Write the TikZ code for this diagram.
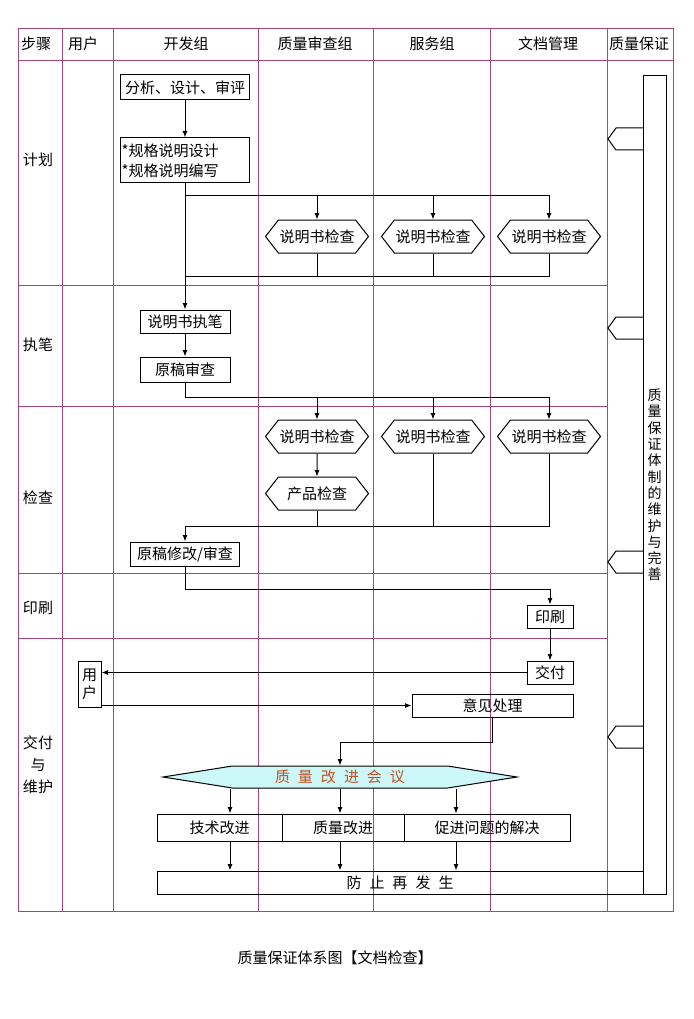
\documentclass[tikz,border=0pt]{standalone}
\usepackage{fontspec}
\setmainfont{Noto Sans CJK SC}
\usetikzlibrary{shapes.symbols,arrows.meta}
\definecolor{framec}{RGB}{168,70,120}
\definecolor{meetfill}{RGB}{204,248,250}
\definecolor{meettext}{RGB}{196,80,30}
\newcommand{\gp}{\hspace{8pt}}
\begin{document}
\begin{tikzpicture}[x=1pt,y=-1pt,
  frame/.style={draw=framec,line width=0.9pt},
  ln/.style={draw=black,line width=1pt},
  arr/.style={ln,-{Latex[length=6.5pt,width=5pt]}},
  txt/.style={font=\fontsize{15}{17}\selectfont,inner sep=0pt},
  box/.style={txt,draw=black,line width=1pt,rectangle},
  hexa/.style={txt,draw=black,line width=1pt,shape=signal,signal to=west and east,
    signal pointer angle=104,minimum width=103pt,minimum height=33pt},
  tabshape/.style={draw=black,line width=1pt}
]
\fill[white] (0,0) rectangle (693,1019);
\useasboundingbox (0,0) rectangle (693,1019);

% ---- frame ----
\draw[frame] (18,28) rectangle (673,911);
\draw[frame] (18,60) -- (673,60);
\foreach \x in {62,113,258,373,490,607} \draw[frame] (\x,28) -- (\x,911);
\foreach \y in {285,406,573,638} \draw[frame] (18,\y) -- (607,\y);

% ---- headers ----
\node[txt] (hstep) at (36,44) {步骤};
\node[txt] (huser) at (83,44) {用户};
\node[txt] (hdev) at (186,44) {开发组};
\node[txt] (hqr) at (315,44) {质量审查组};
\node[txt] (hsvc) at (432,44) {服务组};
\node[txt] (hdoc) at (548,44) {文档管理};
\node[txt] (hqa) at (639,44) {质量保证};

% ---- row labels ----
\node[txt] (rplan) at (38,160) {计划};
\node[txt] (rwrite) at (38,345) {执笔};
\node[txt] (rcheck) at (38,498) {检查};
\node[txt] (rprint) at (38,608) {印刷};
\node[txt,align=center,font=\fontsize{15}{22}\selectfont] (rdeliv) at (38,765) {交付\\与\\维护};

% ---- QA bar and tabs ----
\node[txt,draw=black,line width=1pt,minimum width=23pt,minimum height=818pt,align=center,
  font=\fontsize{14}{16.3}\selectfont] (qa) at (654.5,485)
  {质\\量\\保\\证\\体\\制\\的\\维\\护\\与\\完\\善};
\foreach \yc in {139,328,562,737}
  \draw[tabshape] (643,\yc-11) -- (616,\yc-11) -- (608,\yc) -- (616,\yc+11) -- (643,\yc+11);

% ---- development nodes ----
\node[box,minimum width=129pt,minimum height=25pt] (ana) at (185,87.5) {分析、设计、审评};
\node[box,minimum width=129pt,minimum height=45pt,text width=127pt,align=left,inner xsep=1pt,
  font=\fontsize{15}{20}\selectfont] (spec) at (185,160.5)
  {*规格说明设计\\{}*规格说明编写};
\node[hexa] (h1) at (317,236.5) {说明书检查};
\node[hexa] (h2) at (433,236.5) {说明书检查};
\node[hexa] (h3) at (549,236.5) {说明书检查};
\node[box,minimum width=90pt,minimum height=23pt] (write) at (185,321.5) {说明书执笔};
\node[box,minimum width=90pt,minimum height=25pt] (draft) at (185,369.5) {原稿审查};
\node[hexa] (h4) at (317,436.5) {说明书检查};
\node[hexa] (h5) at (433,436.5) {说明书检查};
\node[hexa] (h6) at (549,436.5) {说明书检查};
\node[hexa] (prod) at (317,493.5) {产品检查};
\node[box,minimum width=109pt,minimum height=24pt] (revise) at (185,554) {原稿修改/审查};
\node[box,minimum width=46pt,minimum height=23pt] (print) at (550,616.5) {印刷};
\node[box,minimum width=46pt,minimum height=23pt] (deliver) at (550,672.5) {交付};
\node[box,minimum width=23pt,minimum height=46pt,align=center,font=\fontsize{15}{18}\selectfont] (user) at (89.5,684) {用\\户};
\node[box,minimum width=161pt,minimum height=23pt] (opinion) at (492.5,705.5) {意见处理};
\node[txt,draw=black,line width=1pt,fill=meetfill,shape=signal,signal to=west and east,
  signal pointer angle=18,minimum width=354pt,minimum height=22pt,text=meettext] (meet) at (340,777)
  {质\gp 量\gp 改\gp 进\gp 会\gp 议};
\node[box,minimum width=125pt,minimum height=27pt] (tech) at (219.5,827.5) {技术改进};
\node[box,minimum width=122pt,minimum height=27pt] (qimp) at (343,827.5) {质量改进};
\node[box,minimum width=166pt,minimum height=27pt] (prob) at (487,827.5) {促进问题的解决};
\node[box,minimum width=486pt,minimum height=23pt] (prev) at (400,882.5) {防\gp 止\gp 再\gp 发\gp 生};

% ---- junction coordinates ----
\coordinate (j1) at (185,195);
\coordinate (j2) at (185,276);
\coordinate (j3) at (185,397);
\coordinate (j4) at (185,526);
\coordinate (j5) at (550,589);
\coordinate (j6) at (340,742);
\coordinate (c1) at (230,0);
\coordinate (c2) at (340,0);
\coordinate (c3) at (456,0);

% ---- connectors ----
\draw[arr] (ana) -- (spec);
\draw[arr] (spec) -- (write);
\draw[arr] (j1) -| (h1.north);
\draw[arr] (j1) -| (h2.north);
\draw[arr] (j1) -| (h3.north);
\draw[ln] (h1.south) |- (j2);
\draw[ln] (h2.south) |- (j2);
\draw[ln] (h3.south) |- (j2);
\draw[arr] (write) -- (draft);
\draw[ln] (draft.south) -- (j3);
\draw[arr] (j3) -| (h4.north);
\draw[arr] (j3) -| (h5.north);
\draw[arr] (j3) -| (h6.north);
\draw[arr] (h4) -- (prod);
\draw[ln] (prod.south) |- (j4);
\draw[ln] (h5.south) |- (j4);
\draw[ln] (h6.south) |- (j4);
\draw[arr] (j4) -- (revise.north);
\draw[arr] (revise.south) |- (j5) -- (print.north);
\draw[arr] (print) -- (deliver);
\draw[arr] (deliver.west) -- (deliver.west -| user.east);
\draw[arr] (user.east |- opinion.west) -- (opinion.west);
\draw[arr] (opinion.south) |- (j6) -- (meet.north);
\draw[arr] (c1 |- meet.south) -- (c1 |- tech.north);
\draw[arr] (c2 |- meet.south) -- (c2 |- qimp.north);
\draw[arr] (c3 |- meet.south) -- (c3 |- prob.north);
\draw[arr] (c1 |- tech.south) -- (c1 |- prev.north);
\draw[arr] (c2 |- qimp.south) -- (c2 |- prev.north);
\draw[arr] (c3 |- prob.south) -- (c3 |- prev.north);

% ---- caption ----
\node[txt] (cap) at (335,958) {质量保证体系图【文档检查】};
\end{tikzpicture}
\end{document}
